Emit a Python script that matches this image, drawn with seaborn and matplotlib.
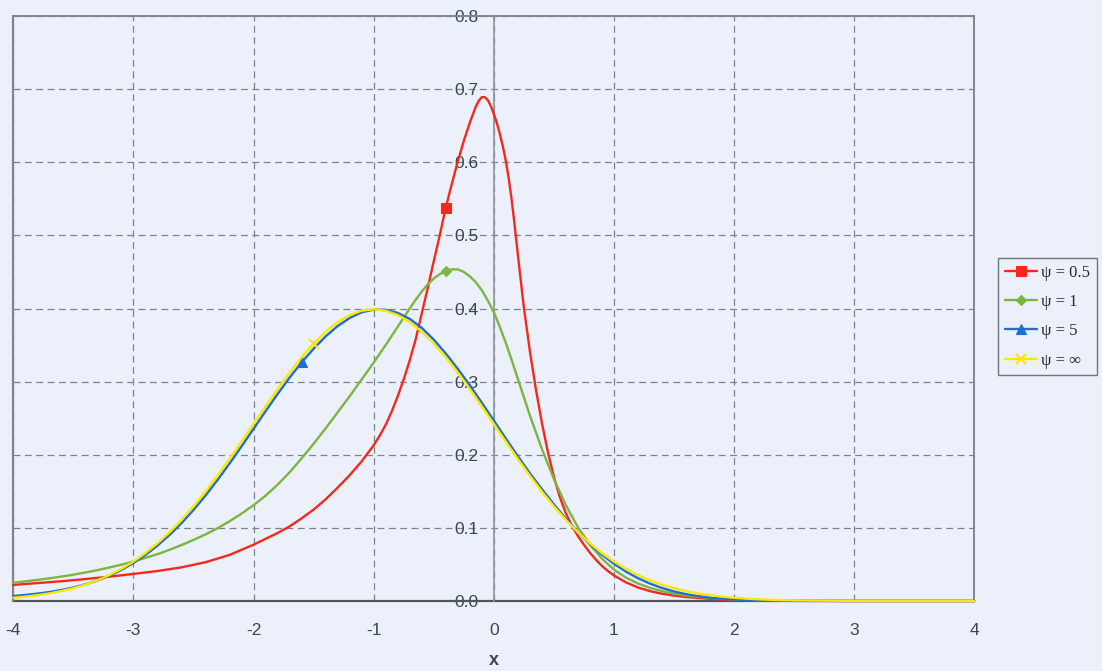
import matplotlib
matplotlib.use("Agg")
import numpy as np
import pandas as pd
import matplotlib.pyplot as plt
from matplotlib.lines import Line2D
from matplotlib.ticker import MultipleLocator, FormatStrFormatter
import seaborn as sns

# ---------------- data ----------------
# sampling points shared by the psi = 5 and infinity curves
x_grid = [-4.0, -3.9, -3.8, -3.7, -3.6, -3.5, -3.4, -3.3, -3.2, -3.1,
          -3.0, -2.9, -2.8, -2.7, -2.6, -2.5, -2.4, -2.3, -2.2, -2.1,
          -2.0, -1.9, -1.8, -1.7, -1.6, -1.5, -1.4, -1.3, -1.2, -1.1,
          -1.0, -0.9, -0.8, -0.7, -0.6, -0.5, -0.4, -0.3, -0.2, -0.1,
          0.0, 0.1, 0.2, 0.3, 0.4, 0.5, 0.6, 0.7, 0.8, 0.9,
          1.0, 1.1, 1.2, 1.3, 1.4, 1.5, 1.6, 1.7, 1.8, 1.9,
          2.0, 2.1, 2.2, 2.3, 2.4, 2.5, 3.0, 3.5, 4.0]

psi_5 = [0.0068, 0.0083, 0.0101, 0.0122, 0.0150, 0.0185, 0.0228, 0.0280, 0.0345, 0.0425,
         0.0520, 0.0630, 0.0758, 0.0902, 0.1065, 0.1245, 0.1442, 0.1655, 0.1880, 0.2115,
         0.2355, 0.2595, 0.2830, 0.3055, 0.3262, 0.3450, 0.3618, 0.3760, 0.3870, 0.3948,
         0.3985, 0.3982, 0.3940, 0.3858, 0.3735, 0.3575, 0.3385, 0.3175, 0.2950, 0.2712,
         0.2468, 0.2222, 0.1980, 0.1748, 0.1530, 0.1322, 0.1125, 0.0942, 0.0778, 0.0635,
         0.0510, 0.0402, 0.0312, 0.0238, 0.0178, 0.0130, 0.0094, 0.0066, 0.0046, 0.0031,
         0.0021, 0.0014, 0.0009, 0.0006, 0.0004, 0.0002, 0.0000, 0.0000, 0.0000]

psi_inf = [0.0044, 0.0060, 0.0079, 0.0104, 0.0136, 0.0175, 0.0224, 0.0283, 0.0355, 0.0440,
           0.0540, 0.0656, 0.0790, 0.0940, 0.1109, 0.1295, 0.1497, 0.1714, 0.1942, 0.2179,
           0.2420, 0.2661, 0.2897, 0.3123, 0.3332, 0.3521, 0.3683, 0.3814, 0.3910, 0.3970,
           0.3989, 0.3970, 0.3910, 0.3814, 0.3683, 0.3521, 0.3332, 0.3123, 0.2897, 0.2661,
           0.2420, 0.2179, 0.1942, 0.1714, 0.1497, 0.1295, 0.1109, 0.0940, 0.0790, 0.0656,
           0.0540, 0.0440, 0.0355, 0.0283, 0.0224, 0.0175, 0.0136, 0.0104, 0.0079, 0.0060,
           0.0044, 0.0033, 0.0024, 0.0017, 0.0012, 0.0009, 0.0001, 0.0000, 0.0000]

# psi = 1 is sampled more finely around its mode
x_one = [-4.0, -3.9, -3.8, -3.7, -3.6, -3.5, -3.4, -3.3, -3.2, -3.1,
         -3.0, -2.9, -2.8, -2.7, -2.6, -2.5, -2.4, -2.3, -2.2, -2.1,
         -2.0, -1.9, -1.8, -1.7, -1.6, -1.5, -1.4, -1.3, -1.2, -1.1,
         -1.0, -0.9, -0.8, -0.7, -0.65, -0.6, -0.55, -0.5, -0.45, -0.4,
         -0.35, -0.3, -0.25, -0.2, -0.15, -0.1, -0.05, 0.0, 0.05, 0.1,
         0.15, 0.2, 0.3, 0.4, 0.5, 0.6, 0.7, 0.8, 0.9,
         1.0, 1.1, 1.2, 1.3, 1.4, 1.5, 1.6, 1.7, 1.8, 1.9,
         2.0, 2.1, 2.2, 2.3, 2.4, 2.5, 3.0, 3.5, 4.0]

psi_1 = [0.0250, 0.0268, 0.0288, 0.0310, 0.0334, 0.0360, 0.0390, 0.0422, 0.0458, 0.0497,
         0.0540, 0.0590, 0.0640, 0.0700, 0.0765, 0.0835, 0.0910, 0.0995, 0.1090, 0.1195,
         0.1310, 0.1440, 0.1590, 0.1760, 0.1950, 0.2150, 0.2360, 0.2580, 0.2800, 0.3030,
         0.3260, 0.3500, 0.3750, 0.4000, 0.4120, 0.4230, 0.4330, 0.4410, 0.4470, 0.4510,
         0.4535, 0.4535, 0.4500, 0.4440, 0.4360, 0.4250, 0.4110, 0.3950, 0.3750, 0.3530,
         0.3290, 0.3040, 0.2540, 0.2080, 0.1670, 0.1310, 0.1010, 0.0770, 0.0580,
         0.0430, 0.0320, 0.0240, 0.0180, 0.0135, 0.0100, 0.0075, 0.0056, 0.0042, 0.0031,
         0.0023, 0.0017, 0.0012, 0.0009, 0.0007, 0.0005, 0.0001, 0.0000, 0.0000]

# the sharply peaked psi = 0.5 curve needs the finest sampling near its mode
x_half = [-4.0, -3.8, -3.6, -3.4, -3.2, -3.0, -2.8, -2.6, -2.4, -2.2,
          -2.0, -1.9, -1.8, -1.7, -1.6, -1.5, -1.4, -1.3, -1.2, -1.1,
          -1.0, -0.95, -0.9, -0.85, -0.8, -0.75, -0.7, -0.65, -0.6, -0.55,
          -0.5, -0.45, -0.4, -0.35, -0.3, -0.25, -0.2, -0.15, -0.125, -0.1,
          -0.075, -0.05, -0.025, 0.0, 0.025, 0.05, 0.075, 0.1, 0.125, 0.15,
          0.175, 0.2, 0.25, 0.3, 0.35, 0.4, 0.45,
          0.5, 0.55, 0.6, 0.65, 0.7, 0.75, 0.8, 0.85, 0.9, 0.95,
          1.0, 1.1, 1.2, 1.3, 1.4, 1.5, 1.6, 1.7, 1.8, 1.9,
          2.0, 2.1, 2.2, 2.3, 2.4, 2.5, 3.0, 3.5, 4.0]

psi_half = [0.0220, 0.0245, 0.0270, 0.0300, 0.0333, 0.0370, 0.0410, 0.0460, 0.0530, 0.0630,
            0.0770, 0.0850, 0.0930, 0.1020, 0.1130, 0.1250, 0.1390, 0.1550, 0.1720, 0.1910,
            0.2130, 0.2260, 0.2410, 0.2590, 0.2800, 0.3030, 0.3290, 0.3580, 0.3930, 0.4280,
            0.4645, 0.5000, 0.5380, 0.5700, 0.6010, 0.6290, 0.6540, 0.6760, 0.6840, 0.6890,
            0.6890, 0.6850, 0.6770, 0.6660, 0.6540, 0.6390, 0.6220, 0.6020, 0.5770, 0.5470,
            0.5120, 0.4740, 0.4020, 0.3420, 0.2900, 0.2440, 0.2040,
            0.1700, 0.1420, 0.1200, 0.1030, 0.0890, 0.0770, 0.0660, 0.0565, 0.0480, 0.0410,
            0.0350, 0.0255, 0.0185, 0.0135, 0.0100, 0.0074, 0.0055, 0.0041, 0.0030, 0.0022,
            0.0016, 0.0012, 0.0009, 0.0006, 0.0004, 0.0003, 0.0000, 0.0000, 0.0000]

labels = ["\u03c8 = 0.5", "\u03c8 = 1", "\u03c8 = 5", "\u03c8 = \u221e"]
marker_x = [-0.4, -0.4, -1.6, -1.5]

# ---------------- style ----------------
BG = "#ecf0fa"
FRAME = "#80868c"
AXIS_DARK = "#4e565c"
GRID = "#7c848b"
TXT = "#3c464e"

sns.set_style("white")
plt.rcParams["font.family"] = ["Liberation Sans", "DejaVu Sans"]
plt.rcParams["axes.unicode_minus"] = False

colors = ["#f5281c", "#7cb542", "#1f6ed0", "#ffe800"]
markers = ["s", "D", "^", "x"]
msizes = [7, 5.5, 7.5, 7]

fig = plt.figure(figsize=(11.02, 6.71), dpi=100, facecolor=BG)
ax = fig.add_axes([0.01207, 0.10432, 0.87204, 0.87183])
ax.set_facecolor(BG)

series = [(x_half, psi_half), (x_one, psi_1), (x_grid, psi_5), (x_grid, psi_inf)]
for (xs, ys), lab, c, m, ms, mx in zip(series, labels, colors, markers, msizes, marker_x):
    df = pd.DataFrame({"x": xs, "density": ys})
    idx = int(np.argmin(np.abs(np.asarray(xs) - mx)))
    sns.lineplot(data=df, x="x", y="density", ax=ax, color=c, lw=1.7,
                 estimator=None, sort=False, marker=m, markersize=ms,
                 markevery=[idx], markerfacecolor=c, markeredgecolor=c,
                 markeredgewidth=1.6 if m == "x" else 0.8,
                 zorder=3, clip_on=False, legend=False)

ax.set_xlim(-4, 4)
ax.set_ylim(0, 0.8)

# axes: y axis crossing at x = 0, x axis along y = 0, grey frame around
ax.spines["left"].set_position(("data", 0))
ax.spines["left"].set_color("#8d9399")
ax.spines["left"].set_linewidth(1.2)
ax.spines["left"].set_zorder(2.6)
for s in ("top", "right"):
    ax.spines[s].set_color(FRAME)
    ax.spines[s].set_linewidth(1.4)
ax.spines["bottom"].set_color(AXIS_DARK)
ax.spines["bottom"].set_linewidth(1.6)
ax.axvline(-4, color=FRAME, lw=1.6, zorder=2.6, clip_on=False)

ax.xaxis.set_major_locator(MultipleLocator(1))
ax.xaxis.set_minor_locator(MultipleLocator(0.2))
ax.yaxis.set_major_locator(MultipleLocator(0.1))
ax.yaxis.set_major_formatter(FormatStrFormatter("%.1f"))

ax.tick_params(axis="x", which="both", direction="inout", length=8, width=1,
               color=AXIS_DARK, labelsize=12.5, labelcolor=TXT, pad=12)
ax.tick_params(axis="y", which="both", length=0, pad=11,
               labelsize=12.5, labelcolor=TXT)

ax.grid(True, which="major", color=GRID, lw=0.9, ls=(0, (5.5, 3.6)))
ax.set_axisbelow(True)

ax.set_xlabel("x", fontsize=13, fontweight="bold", color=TXT, labelpad=10)
ax.set_ylabel("")

handles = [Line2D([0], [0], color=c, lw=1.7, marker=m, markersize=ms,
                  markerfacecolor=c, markeredgecolor=c,
                  markeredgewidth=1.6 if m == "x" else 0.8)
           for c, m, ms in zip(colors, markers, msizes)]
leg = ax.legend(handles, labels, loc="upper left",
                bbox_to_anchor=(0.9056, 0.6155), bbox_transform=fig.transFigure,
                frameon=True, fancybox=False, edgecolor="#6f757a",
                facecolor=BG, framealpha=1, borderaxespad=0,
                prop={"family": ["Liberation Serif", "DejaVu Serif"], "size": 12},
                handlelength=1.95, handletextpad=0.25, labelspacing=0.8,
                borderpad=0.4)
leg.get_frame().set_linewidth(1.0)
for t in leg.get_texts():
    t.set_color("#2a2a2a")

fig.savefig("out.png", dpi=100, facecolor=BG)
